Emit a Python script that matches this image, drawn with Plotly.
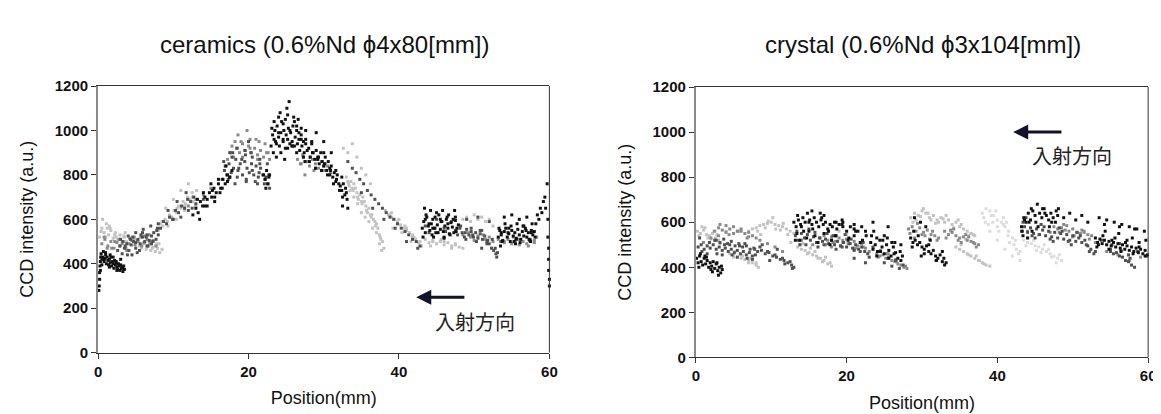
import plotly.graph_objects as go

# ================= ceramics (left panel) =================
# black
cer_k_a_x = [0.1,0.15,0.2,0.2,0.25,0.3,0.3,0.35]
cer_k_a_y = [280,300,330,360,390,410,370,430]
cer_k_b_x = [0.4,0.5,0.6,0.7,0.8,0.9,1.0,1.1,1.2,1.3,1.4,1.5,1.6,1.7,1.8,1.9,2.0,2.1,2.2,2.3,2.4,2.5,2.6,2.7,2.8,2.9,3.0,3.1,3.2,3.3,3.4,3.5]
cer_k_b_y = [445,420,430,455,410,425,440,400,430,415,395,420,405,430,390,410,400,380,415,395,405,385,375,400,390,370,395,380,385,365,390,375]
cer_k_c_x = [12.6,13.0,13.3,13.6,13.9,14.2,14.5,14.8,15.1,15.4,15.7,16.0,16.3,16.6,16.9,17.2,17.5,17.8,14.0,15.0,16.0,17.0,13.5,15.5]
cer_k_c_y = [620,650,630,680,660,700,690,720,700,740,720,760,740,780,760,800,790,820,720,760,780,840,600,680]
cer_k_d_x = [22.0,22.2,22.4,22.6,22.8,22.3,22.7]
cer_k_d_y = [800,780,820,760,800,740,790]
cer_k_e_x = [23.0,23.2,23.3,23.5,23.6,23.8,24.0,24.1,24.3,24.4,24.6,24.7,24.9,25.0,25.2,25.3,25.5,25.6,25.8,25.9,26.1,26.2,26.4,26.5,26.7,26.8,27.0,27.1,27.3,27.4,27.6,27.8,24.2,25.1,25.4,26.0,24.8,23.7,26.6,27.5]
cer_k_e_y = [930,980,900,1000,950,1020,970,930,990,1040,950,1000,920,980,960,1010,940,990,950,1020,930,970,1000,940,960,910,980,930,950,900,940,910,1080,1100,1130,1060,870,880,1050,860]
cer_k_f_x = [28.0,28.2,28.4,28.6,28.8,29.0,29.2,29.4,29.6,29.8,30.0,30.2,30.4,30.6,30.8,31.0,31.2,31.4,31.6,31.8,32.0,32.2,32.4,32.6,32.8,33.0,33.1,29.0,30.0,31.0,32.5,33.2]
cer_k_f_y = [920,880,940,900,870,910,880,850,900,860,840,880,820,860,800,840,790,810,770,800,760,750,730,760,710,720,690,990,950,900,660,650]
cer_k_g_x = [43.1,43.3,43.5,43.7,43.9,44.1,44.3,44.5,44.7,44.9,45.1,45.3,45.5,45.7,45.9,46.1,46.3,46.5,46.7,46.9,47.1,47.3,47.5,47.7,47.9,43.4,44.2,45.0,45.8,46.6,47.4,44.6,46.0]
cer_k_g_y = [560,590,540,610,570,550,580,600,560,540,575,620,555,590,545,570,600,560,535,585,565,540,595,560,575,650,640,630,640,620,640,520,515]
cer_k_h_x = [53.2,53.4,53.6,53.8,54.0,54.2,54.4,54.6,54.8,55.0,55.2,55.4,55.6,55.8,56.0,56.2,56.4,56.6,56.8,57.0,57.2,57.4,57.6,57.8,58.0,54.0,55.0,56.0,57.0,53.5,55.5,57.5]
cer_k_h_y = [520,550,530,505,545,560,520,535,500,550,525,540,515,555,530,510,545,525,560,520,540,505,550,530,545,610,620,600,610,480,490,500]
cer_k_i_x = [58.2,58.4,58.6,58.8,59.0,59.2,59.4,59.5,59.7,59.8,59.8,59.9,59.9,59.9,60.0,60.0]
cer_k_i_y = [580,620,600,650,630,680,700,650,760,600,520,470,420,370,330,300]
cer_k_j_x = [23.1,23.4,23.7,24.0,24.3,24.6,24.9,25.2,25.5,25.8,26.1,26.4,26.7,27.0,27.3,27.6,
             28.1,28.5,28.9,29.3,29.7,30.1,30.5,30.9,31.3,31.7,32.1,32.5,32.9,
             43.2,43.6,44.0,44.4,44.8,45.2,45.6,46.0,46.4,46.8,47.2,47.6,
             53.3,53.7,54.1,54.5,54.9,55.3,55.7,56.1,56.5,56.9,57.3,57.7,58.1,
             0.5,1.0,1.5,2.0,2.5,3.0,14.5,15.5,16.5,17.5]
cer_k_j_y = [1010,960,940,1060,900,1030,1050,920,1000,930,1040,900,990,1010,880,960,
             860,900,830,880,820,850,800,820,760,780,730,700,740,
             520,620,580,530,610,540,590,520,610,530,600,545,
             560,500,580,540,570,500,580,495,570,550,510,580,520,
             395,450,385,430,370,420,660,700,740,790]
cer_k_k_x = [23.4,24.0,24.6,25.2,25.8,26.4,27.0,27.6,28.4,29.2,30.0,30.8,31.6,32.4,
             43.5,44.5,45.5,46.5,47.5,53.6,54.6,55.6,56.6,57.6,0.8,1.6,2.4,3.2,13.2,14.2,15.2,16.2,17.2]
cer_k_k_y = [1040,990,960,1070,930,1020,960,1000,950,870,900,830,820,790,
             600,560,600,580,610,540,560,510,570,540,420,440,410,380,690,660,730,720,770]

# dark grey
cer_d_a_x = [2.6,2.9,3.2,3.5,3.8,4.1,4.4,4.7,5.0,5.3,5.6,5.9,6.2,6.5,6.8,7.1,7.4,7.7,8.0,3.0,4.0,5.0,6.0,7.0,8.0,4.5,5.5,6.5]
cer_d_a_y = [460,480,445,470,490,460,485,500,470,510,490,520,500,530,505,525,540,510,530,510,525,540,555,570,580,440,460,480]
cer_d_b_x = [8.3,8.7,9.1,9.5,9.9,10.3,10.7,11.1,11.5,11.9,12.3,12.7,9.3,10.5,11.7,12.5]
cer_d_b_y = [560,590,580,610,600,640,630,660,650,690,680,700,640,680,720,650]
cer_d_c_x = [16.5,16.8,17.1,17.4,17.7,18.0,18.3,18.6,18.9,19.2,19.5,19.8,20.1,20.4,20.7,21.0,21.3,21.6,21.9,22.2,22.5,22.8,17.5,18.5,19.5,20.5,21.5,22.5,18.2,19.7,21.2,20.0]
cer_d_c_y = [780,820,800,850,810,830,870,820,850,800,860,830,810,850,800,840,790,830,800,780,760,740,900,920,910,880,870,850,760,770,760,950]
cer_d_d_x = [33.2,33.8,34.3,34.8,35.3,35.8,36.3,36.8,37.3,37.8,38.3,38.8,39.3,39.8,40.3,40.8,41.3,41.8,42.3,42.8,35.0,36.5,38.0,39.5,41.0,42.5]
cer_d_d_y = [860,830,810,780,760,730,710,690,670,650,630,610,600,580,560,545,530,510,500,480,720,650,600,560,500,470]
cer_d_e_x = [47.5,47.8,48.1,48.4,48.7,49.0,49.3,49.6,49.9,50.2,50.5,50.8,51.1,51.4,51.7,52.0,52.3,52.6,52.9,53.1,49.0,50.5,52.0,51.0]
cer_d_e_y = [550,530,560,540,520,555,530,545,520,540,515,535,510,525,500,490,470,460,445,450,600,610,590,470]
cer_d_f_x = [3.3,3.9,4.6,5.2,5.9,6.6,7.3,7.9,16.7,17.3,17.9,18.5,19.1,19.7,20.3,20.9,21.5,22.1,22.7,
             10.0,11.0,12.0,13.0,14.0,48.2,48.9,49.6,50.3,51.0,51.7,52.4,53.0,44.0,45.0,46.0,47.0]
cer_d_f_y = [500,440,520,450,540,480,500,560,860,780,900,790,870,780,900,770,850,760,800,
             600,610,640,670,690,570,510,560,500,550,490,510,430,540,600,560,590]
cer_d_g_x = [3.6,4.3,5.0,5.7,6.4,7.1,7.8,16.9,17.8,18.7,19.6,20.5,21.4,22.3,48.8,49.8,50.8,51.8,52.8,43.5,44.8,46.2]
cer_d_g_y = [480,510,495,530,520,490,550,840,880,830,890,820,810,790,540,530,550,505,470,570,560,545]

# mid grey
cer_m_a_x = [0.5,0.9,1.3,1.7,2.1,2.5,2.9,3.3,3.7,4.1,4.5,4.9,5.3,5.7,6.1,6.5,6.9,7.3,7.7]
cer_m_a_y = [490,510,480,500,470,495,480,500,470,490,505,485,500,520,495,510,490,505,480]
cer_m_b_x = [17.2,17.6,18.0,18.4,18.8,19.2,19.6,20.0,20.4,20.8,21.2,21.6,22.0,22.4,22.8,18.6,19.8,21.0]
cer_m_b_y = [870,900,880,920,900,940,910,930,900,920,890,910,880,900,870,980,1000,960]
cer_m_c_x = [26.5,26.9,27.3,27.7,28.1,28.5,28.9,29.3,29.7,30.1,30.5,30.9,27.5,28.7]
cer_m_c_y = [870,850,880,860,840,870,850,830,860,820,840,810,800,820]
cer_m_d_x = [48.5,49.5,50.5,51.5,52.5,53.5,54.0,54.5,55.0,55.5,56.0,56.5,57.0,57.5,58.0,58.3]
cer_m_d_y = [530,520,525,510,500,500,495,510,490,505,485,500,490,510,495,520]
cer_m_e_x = [0.8,1.8,2.8,3.8,4.8,5.8,6.8,18.2,19.2,20.2,21.2,22.2,27.2,28.2,29.2,30.2,
             49.2,51.2,53.2,55.2,57.2,12.0,13.0,14.0,15.0]
cer_m_e_y = [520,470,510,460,520,480,530,950,880,960,870,940,890,880,870,850,
             540,530,510,520,480,660,690,710,740]
cer_m_f_x = [1.2,2.2,3.2,4.2,5.2,6.2,7.2,17.8,19.0,20.2,21.4,22.6,27.0,28.0,29.0,30.0,50.0,52.0,54.0,56.0,58.0]
cer_m_f_y = [470,500,490,515,505,525,500,930,950,920,950,900,850,860,830,840,505,520,500,510,505]

# light grey
cer_l_a_x = [0.2,0.5,0.8,1.1,1.4,1.7,2.0,2.3,2.6,2.9,3.2,3.5,3.8,0.6,1.5]
cer_l_a_y = [520,560,540,580,530,550,515,540,505,530,500,520,500,600,570]
cer_l_b_x = [5.5,5.8,6.1,6.4,6.7,7.0,7.3,7.6,7.9,8.2,8.5,6.8,7.8]
cer_l_b_y = [480,470,490,465,480,460,475,455,470,450,465,500,490]
cer_l_c_x = [8.0,8.3,8.6,8.9,9.2,9.5,9.8,10.1,10.4,10.7,11.0,11.3,11.6,11.9,12.2,12.5,12.8,13.1,9.0,10.0,11.0,12.0,13.0]
cer_l_c_y = [550,580,570,600,590,620,610,640,630,660,650,680,670,700,690,720,700,730,650,690,730,760,660]
cer_l_d_x = [33.0,33.3,33.6,33.9,34.2,34.5,34.8,35.1,35.4,35.7,36.0,36.3,36.6,36.9,37.2,37.5,37.8,38.0,33.5,34.0,34.5,35.0,35.5,36.0,36.5,37.0,37.4,37.7]
cer_l_d_y = [790,760,770,730,740,700,710,670,680,640,650,610,600,570,560,520,500,470,730,700,670,630,610,590,560,540,490,460]
cer_l_e_x = [32.6,33.2,33.8,34.4,35.0,35.6,36.2]
cer_l_e_y = [920,900,940,880,830,800,760]
cer_l_f_x = [38.2,38.6,39.0,39.4,39.8,40.2,40.6,41.0,41.4,41.8,42.2,42.6,43.0,39.2,40.4,41.6]
cer_l_f_y = [640,620,610,600,590,575,560,550,540,520,510,495,480,560,540,500]
cer_l_g_x = [43.5,44.0,44.5,45.0,45.5,46.0,46.5,47.0,47.5,48.0,48.5]
cer_l_g_y = [510,495,505,490,500,485,495,480,490,475,470]
cer_l_h_x = [48.5,49.0,49.5,50.0,50.5,51.0,51.5,52.0,52.5]
cer_l_h_y = [600,610,590,620,600,610,590,600,570]
cer_l_i_x = [1.2,2.4,3.6,4.8,9.3,10.4,11.5,12.6,33.4,34.0,34.6,35.2,35.8,36.4,37.0,37.6,
             39.0,40.0,41.0,42.0,44.2,45.6,47.0,7.2,8.1]
cer_l_i_y = [560,520,540,510,570,600,640,680,750,760,690,700,630,620,580,510,
             630,600,560,520,480,510,470,470,490]
cer_l_j_x = [0.4,1.0,1.6,2.2,2.8,3.4,8.5,9.5,10.5,11.5,12.5,33.2,33.8,34.4,35.0,35.6,36.2,36.8,37.4,
             38.8,39.8,40.8,41.8,42.8,44.5,46.0,47.5]
cer_l_j_y = [545,520,560,530,510,525,590,610,650,660,700,770,740,720,680,660,620,590,530,
             620,580,570,530,500,500,500,485]

# ================= crystal (right panel) =================
cry_k_a_x = [0.1,0.3,0.5,0.7,0.9,1.1,1.3,1.5,1.7,1.9,2.1,2.3,2.5,2.7,2.9,3.1,3.3,3.5,0.6,1.4,2.2,3.0]
cry_k_a_y = [440,420,450,425,410,440,415,430,400,420,405,425,395,415,385,400,375,390,460,445,380,365]
cry_k_b_x = [13.0,13.3,13.6,13.9,14.2,14.5,14.8,15.1,15.4,15.7,16.0,16.3,16.6,16.9,17.2,17.5,17.8,18.1,18.4,18.7,19.0,19.5,20.0,20.5,21.0,21.5,22.0,22.5]
cry_k_b_y = [600,580,610,590,620,600,640,610,590,620,600,580,610,590,600,570,590,580,600,570,590,580,560,580,570,560,580,560]
cry_k_c_x = [23.2,23.5,23.8,24.1,24.4,24.7,25.0,25.3,25.6,25.9,26.2,26.5,26.8,27.1,27.4,24.0,25.0,26.0,23.5,25.5]
cry_k_c_y = [510,480,500,470,520,490,460,500,475,450,490,465,440,470,450,530,540,510,600,580]
cry_k_d_x = [28.5,28.8,29.1,29.4,29.7,30.0,30.3,30.6,30.9,31.2,31.5,31.8,32.1,32.4,32.7,33.0,33.2,29.0,29.8,30.5]
cry_k_d_y = [530,510,520,500,510,490,480,495,470,460,475,450,440,455,425,410,420,620,600,580]
cry_k_e_x = [43.2,43.5,43.8,44.1,44.4,44.7,45.0,45.3,45.6,45.9,46.2,46.5,46.8,47.1,47.4,47.7,48.0,43.4,44.0,44.6]
cry_k_e_y = [580,620,600,640,610,650,630,680,640,620,660,630,610,640,620,600,630,540,530,560]
cry_k_f_x = [53.0,53.3,53.6,53.9,54.2,54.5,54.8,55.1,55.4,55.7,56.0,56.3,56.6,56.9,57.2,57.5,57.8,58.1,58.4,58.7,59.0,59.3,59.6,59.9,53.5,54.5,55.5,56.5,57.5,58.5,59.5]
cry_k_f_y = [530,510,525,505,520,500,515,495,510,490,505,485,500,480,495,475,490,470,485,465,480,460,475,455,620,610,600,590,580,570,560]
cry_k_g_x = [0.4,1.2,2.0,2.8,3.4,13.4,14.3,15.0,15.8,16.7,17.6,18.5,19.4,20.3,21.2,22.1,13.8,15.4,17.0,18.6,
             23.3,24.0,24.8,25.6,26.4,27.2,28.7,29.5,30.3,31.1,31.9,32.7,43.3,44.2,45.1,46.0,46.9,47.8,
             53.2,54.0,54.8,55.6,56.4,57.2,58.0,58.8,59.6,54.2,56.2,58.2]
cry_k_g_y = [400,450,390,420,405,550,560,600,540,620,560,540,590,530,560,520,520,650,630,600,
             540,450,520,440,510,430,490,540,460,520,430,470,560,600,600,660,580,650,
             490,540,480,530,470,520,460,510,450,590,580,570]
cry_k_h_x = [13.2,14.0,14.7,15.5,16.2,17.0,17.8,18.6,19.4,20.2,21.0,21.8,22.6,13.5,15.0,16.5,18.0,19.5,21.0,
             23.6,24.5,25.4,26.3,27.2,28.9,29.9,30.9,31.9,32.9,43.6,44.5,45.4,46.3,47.2,48.1,48.8,49.6,50.4,51.2,52.0,
             53.4,54.3,55.2,56.1,57.0,57.9,58.8,59.7]
cry_k_h_y = [520,580,530,570,510,550,500,540,610,520,590,510,540,630,560,640,520,600,540,
             560,470,530,460,500,560,450,500,430,440,610,660,580,640,600,660,620,640,610,630,600,
             500,560,520,550,510,530,490,520]

cry_d_a_x = [0.3,0.7,1.1,1.5,1.9,2.3,2.7,3.1,3.5,3.9,4.3,4.7,5.1,5.5,5.9,6.3,6.7,7.1,7.5,7.9]
cry_d_a_y = [490,500,480,495,485,500,480,490,475,485,470,480,465,475,460,470,455,465,450,455]
cry_d_b_x = [2.7,3.2,3.7,4.2,4.7,5.2,5.7,6.2,6.7,7.2,7.7,8.2,8.7,9.2,9.7,10.2,10.7,11.2,11.7,12.2,12.7,13.0]
cry_d_b_y = [520,510,525,505,515,495,505,490,495,480,485,470,475,460,465,450,445,435,430,420,410,400]
cry_d_c_x = [13.2,13.6,14.0,14.4,14.8,15.2,15.6,16.0,16.4,16.8,17.2,17.6,18.0,18.4,18.8,19.2,19.6,20.0,20.4,20.8,21.2,21.6,22.0,22.4,22.8,21.0,22.5]
cry_d_c_y = [540,520,550,530,545,520,535,510,530,515,525,505,520,500,515,495,510,490,505,485,500,480,490,470,460,440,420]
cry_d_d_x = [43.2,43.6,44.0,44.4,44.8,45.2,45.6,46.0,46.4,46.8,47.2,47.6,48.0,48.4,48.8,49.2,49.6,50.0,50.4,50.8,51.2,51.6,52.0,52.4,52.8]
cry_d_d_y = [560,580,555,575,550,570,545,565,540,560,535,555,530,550,525,545,520,540,515,530,510,520,495,480,460]
cry_d_e_x = [55.0,55.4,55.8,56.2,56.6,57.0,57.4,57.8,58.2]
cry_d_e_y = [470,460,465,450,445,430,425,410,400]
cry_d_f_x = [0.8,1.8,2.8,3.8,4.8,5.8,6.8,7.8,8.5,9.5,10.5,11.5,12.5,13.4,14.6,15.8,17.0,18.2,19.4,20.6,21.8,23.0,
             43.4,44.6,45.8,47.0,48.2,49.4,50.6,51.8,53.0,55.2,56.4,57.6,25.0,26.0,27.0]
cry_d_f_y = [470,510,460,500,455,495,440,480,490,470,455,440,425,560,500,555,500,540,490,525,470,445,
             600,540,590,525,575,515,555,500,470,500,475,440,420,405,395]
cry_d_g_x = [0.5,1.5,2.5,3.5,4.5,5.5,6.5,7.5,8.8,9.8,10.8,11.8,12.8,13.8,15.0,16.2,17.4,18.6,19.8,21.0,22.2,
             23.5,24.5,25.5,26.5,27.5,43.8,45.0,46.2,47.4,48.6,49.8,51.0,52.2,53.8,55.0,56.2,57.4,58.6,59.8]
cry_d_g_y = [530,460,520,455,500,445,505,435,500,430,480,415,395,500,570,490,550,480,545,475,510,
             490,470,440,430,410,620,530,580,515,560,500,540,470,520,480,505,455,470,450]

cry_m_a_x = [2.5,3.0,3.5,4.0,4.5,5.0,5.5,6.0,6.5,7.0,7.5,8.0]
cry_m_a_y = [560,575,565,585,570,580,560,570,550,555,540,530]
cry_m_b_x = [17.0,17.5,18.0,18.5,19.0,19.5,20.0,20.5,21.0,21.5,22.0,22.5]
cry_m_b_y = [540,520,535,515,530,510,525,505,515,495,505,485]
cry_m_c_x = [24.0,24.4,24.8,25.2,25.6,26.0,26.4,26.8,27.2,27.6,28.0]
cry_m_c_y = [460,450,455,440,445,430,425,415,410,400,395]
cry_m_d_x = [28.2,28.7,29.2,29.7,30.2,30.7,31.2,31.7,32.2]
cry_m_d_y = [570,580,560,575,555,565,545,540,530]
cry_m_e_x = [33.0,33.5,34.0,34.5,35.0,35.5,36.0,36.5,37.0,37.5]
cry_m_e_y = [560,545,555,540,530,535,520,515,505,500]
cry_m_f_x = [47.5,48.0,48.5,49.0,49.5,50.0,50.5,51.0,51.5,52.0,52.5]
cry_m_f_y = [580,570,575,565,560,570,555,550,560,545,540]
cry_m_g_x = [3.0,4.0,5.0,6.0,7.0,17.2,18.2,19.2,20.2,21.2,22.2,28.4,29.4,30.4,31.4,
             33.2,34.2,35.2,36.2,37.2,48.2,49.2,50.2,51.2,52.2,24.5,25.5,26.5]
cry_m_g_y = [540,555,550,560,535,500,510,495,505,485,490,550,595,540,560,
             530,570,510,535,490,555,585,540,565,525,475,460,435]
cry_m_h_x = [1.0,2.0,3.2,4.4,5.6,6.8,8.5,9.5,10.5,11.5,14.0,15.5,16.5,18.0,19.5,21.0,
             23.0,24.2,25.4,26.6,27.8,29.0,30.0,31.0,32.0,33.8,34.8,35.8,36.8,
             44.0,45.5,47.0,48.8,50.0,51.5,53.0,54.5,56.0,57.5,59.0]
cry_m_h_y = [510,530,590,545,560,530,520,505,490,470,520,500,530,490,520,480,
             470,445,460,425,405,530,545,525,520,565,520,545,510,
             560,545,555,590,535,555,510,470,455,430,445]

cry_l_a_x = [0.2,0.6,1.0,1.4,1.8,2.2,2.6,3.0]
cry_l_a_y = [560,550,565,545,540,550,530,520]
cry_l_b_x = [4.5,5.0,5.5,6.0,6.5,7.0,7.5,8.0,8.3]
cry_l_b_y = [460,455,445,440,435,430,420,410,400]
cry_l_c_x = [7.0,7.5,8.0,8.5,9.0,9.5,10.0,10.5,11.0,11.5,12.0,12.5,13.0]
cry_l_c_y = [560,570,575,585,590,595,600,590,585,580,570,560,550]
cry_l_d_x = [13.5,14.0,14.5,15.0,15.5,16.0,16.5,17.0,17.5,18.0]
cry_l_d_y = [490,480,475,465,455,450,440,430,415,405]
cry_l_e_x = [28.5,29.0,29.5,30.0,30.5,31.0,31.5,32.0,32.5,33.0,33.5,34.0,34.5,35.0,35.5,36.0,36.5,37.0]
cry_l_e_y = [620,640,630,650,640,620,630,610,620,600,610,590,600,580,570,560,550,540]
cry_l_f_x = [34.5,35.0,35.5,36.0,36.5,37.0,37.5,38.0,38.5,39.0]
cry_l_f_y = [490,480,470,460,450,440,430,420,410,405]
cry_l_g_x = [0.4,1.2,2.0,2.8,5.0,6.0,7.0,8.0,8.2,9.2,10.2,11.2,12.2,13.8,14.8,15.8,16.8,17.8,
             29.2,30.2,31.2,32.2,33.2,34.2,35.2,36.2,35.2,36.2,37.2,38.2]
cry_l_g_y = [540,575,525,545,445,455,420,420,560,575,620,565,545,500,460,470,425,420,
             610,660,610,600,630,575,590,540,500,455,450,415]
cry_l_h_x = [0.8,1.6,2.4,3.2,4.0,5.2,6.2,7.2,8.6,9.6,10.6,11.6,12.6,14.2,15.2,16.2,17.2,
             28.8,29.8,30.8,31.8,32.8,33.8,34.8,35.8,36.8,37.6,19.0,20.0,21.0]
cry_l_h_y = [580,530,560,505,560,470,450,440,545,605,570,595,510,505,485,440,445,
             600,625,640,595,615,560,610,525,545,430,560,545,570]
cry_v_a_x = [38.0,38.5,39.0,39.5,40.0,40.5,41.0,41.5,42.0,42.5,43.0,39.0,40.0,41.0]
cry_v_a_y = [640,660,650,630,610,600,580,560,530,480,430,560,520,480]
cry_v_b_x = [43.5,44.0,44.5,45.0,45.5,46.0,46.5,47.0,47.5,48.0,48.5]
cry_v_b_y = [520,510,505,495,490,480,470,460,450,440,430]
cry_v_c_x = [38.2,38.8,39.4,40.2,40.8,41.4,42.2,42.8,43.8,44.8,45.8,46.8,47.8]
cry_v_c_y = [620,590,600,560,620,540,500,460,495,520,465,480,420]
cry_v_d_x = [38.4,39.2,40.0,40.8,41.6,42.4,43.0,44.2,45.2,46.2,47.2,48.2,39.8,41.2,42.0]
cry_v_d_y = [600,630,580,590,510,520,470,530,475,500,445,455,650,600,450]

x_ticks = [0, 20, 40, 60]
y_ticks = [0, 200, 400, 600, 800, 1000, 1200]
left_title = "ceramics (0.6%Nd \u03d54x80[mm])"
right_title = "crystal (0.6%Nd \u03d53x104[mm])"
x_title = "Position(mm)"
y_title = "CCD intensity (a.u.)"
arrow_label = "入射方向"

C_BLACK, C_DARK, C_MID, C_LIGHT, C_VLIGHT = "#111111", "#505050", "#8a8a8a", "#c2c2c2", "#dcdcdc"

left_groups = [
    (C_LIGHT, [(cer_l_a_x, cer_l_a_y), (cer_l_b_x, cer_l_b_y), (cer_l_c_x, cer_l_c_y), (cer_l_d_x, cer_l_d_y),
               (cer_l_e_x, cer_l_e_y), (cer_l_f_x, cer_l_f_y), (cer_l_g_x, cer_l_g_y), (cer_l_h_x, cer_l_h_y),
               (cer_l_i_x, cer_l_i_y), (cer_l_j_x, cer_l_j_y)]),
    (C_MID, [(cer_m_a_x, cer_m_a_y), (cer_m_b_x, cer_m_b_y), (cer_m_c_x, cer_m_c_y), (cer_m_d_x, cer_m_d_y),
             (cer_m_e_x, cer_m_e_y), (cer_m_f_x, cer_m_f_y)]),
    (C_DARK, [(cer_d_a_x, cer_d_a_y), (cer_d_b_x, cer_d_b_y), (cer_d_c_x, cer_d_c_y), (cer_d_d_x, cer_d_d_y),
              (cer_d_e_x, cer_d_e_y), (cer_d_f_x, cer_d_f_y), (cer_d_g_x, cer_d_g_y)]),
    (C_BLACK, [(cer_k_a_x, cer_k_a_y), (cer_k_b_x, cer_k_b_y), (cer_k_c_x, cer_k_c_y), (cer_k_d_x, cer_k_d_y),
               (cer_k_e_x, cer_k_e_y), (cer_k_f_x, cer_k_f_y), (cer_k_g_x, cer_k_g_y), (cer_k_h_x, cer_k_h_y),
               (cer_k_i_x, cer_k_i_y), (cer_k_j_x, cer_k_j_y), (cer_k_k_x, cer_k_k_y)]),
]
right_groups = [
    (C_VLIGHT, [(cry_v_a_x, cry_v_a_y), (cry_v_b_x, cry_v_b_y), (cry_v_c_x, cry_v_c_y), (cry_v_d_x, cry_v_d_y)]),
    (C_LIGHT, [(cry_l_a_x, cry_l_a_y), (cry_l_b_x, cry_l_b_y), (cry_l_c_x, cry_l_c_y), (cry_l_d_x, cry_l_d_y),
               (cry_l_e_x, cry_l_e_y), (cry_l_f_x, cry_l_f_y), (cry_l_g_x, cry_l_g_y), (cry_l_h_x, cry_l_h_y)]),
    (C_MID, [(cry_m_a_x, cry_m_a_y), (cry_m_b_x, cry_m_b_y), (cry_m_c_x, cry_m_c_y), (cry_m_d_x, cry_m_d_y),
             (cry_m_e_x, cry_m_e_y), (cry_m_f_x, cry_m_f_y), (cry_m_g_x, cry_m_g_y), (cry_m_h_x, cry_m_h_y)]),
    (C_DARK, [(cry_d_a_x, cry_d_a_y), (cry_d_b_x, cry_d_b_y), (cry_d_c_x, cry_d_c_y), (cry_d_d_x, cry_d_d_y),
              (cry_d_e_x, cry_d_e_y), (cry_d_f_x, cry_d_f_y), (cry_d_g_x, cry_d_g_y)]),
    (C_BLACK, [(cry_k_a_x, cry_k_a_y), (cry_k_b_x, cry_k_b_y), (cry_k_c_x, cry_k_c_y), (cry_k_d_x, cry_k_d_y),
               (cry_k_e_x, cry_k_e_y), (cry_k_f_x, cry_k_f_y), (cry_k_g_x, cry_k_g_y), (cry_k_h_x, cry_k_h_y)]),
]

fig = go.Figure()
for groups, xa, ya in [(left_groups, "x", "y"), (right_groups, "x2", "y2")]:
    for color, segs in groups:
        xs, ys = [], []
        for sx, sy in segs:
            xs += sx
            ys += sy
        fig.add_trace(go.Scatter(x=xs, y=ys, mode="markers", xaxis=xa, yaxis=ya,
                                 marker=dict(color=color, size=3, symbol="square", line=dict(width=0)),
                                 showlegend=False, hoverinfo="skip", cliponaxis=False))

W, H = 1161, 414
FONT = "Arial, Liberation Sans, sans-serif"
tickfont = dict(family=FONT, size=15, color="#111", weight="bold")
titlefont = dict(family=FONT, size=18, color="#111")

def xaxis(dom, anchor):
    return dict(domain=dom, anchor=anchor, range=[0, 60], tickvals=x_ticks,
                ticks="outside", ticklen=5, tickcolor="#333", showgrid=False, zeroline=False,
                showline=True, linecolor="#333", linewidth=1, mirror=True,
                tickfont=tickfont, title=dict(text=x_title, font=titlefont, standoff=12))

def yaxis(dom, anchor):
    return dict(domain=dom, anchor=anchor, range=[0, 1200], tickvals=y_ticks,
                ticks="outside", ticklen=5, tickcolor="#333", showgrid=False, zeroline=False,
                showline=True, linecolor="#8a8a8a", linewidth=2,
                tickfont=tickfont, title=dict(text=y_title, font=titlefont, standoff=16))

fig.update_layout(
    width=W, height=H, margin=dict(l=0, r=0, t=0, b=0),
    paper_bgcolor="white", plot_bgcolor="white",
    xaxis=xaxis([87 / W, 543 / W], "y"),
    yaxis=yaxis([1 - 350 / H, 1 - 72 / H], "x"),
    xaxis2=xaxis([691 / W, 1148 / W], "y2"),
    yaxis2=yaxis([1 - 355 / H, 1 - 73 / H], "x2"),
)

for xr, yr in [("x domain", "y domain"), ("x2 domain", "y2 domain")]:
    fig.add_shape(type="line", xref=xr, yref=yr, x0=1, x1=1, y0=0, y1=1,
                  line=dict(color="#333", width=1))

fig.add_annotation(text=left_title, xref="paper", yref="paper", x=316 / W, y=1 - 29 / H,
                   xanchor="center", yanchor="middle", showarrow=False,
                   font=dict(family=FONT, size=24, color="#111"))
fig.add_annotation(text=right_title, xref="paper", yref="paper", x=921 / W, y=1 - 29 / H,
                   xanchor="center", yanchor="middle", showarrow=False,
                   font=dict(family=FONT, size=24, color="#111"))

ARROW = "#12122a"
CJK = dict(family="Noto Sans CJK JP", size=20, color="#222")
fig.add_annotation(x=42.3, y=249, ax=48.9, ay=249, xref="x", yref="y", axref="x", ayref="y",
                   text="", showarrow=True, arrowhead=2, arrowsize=1, arrowwidth=3, arrowcolor=ARROW)
fig.add_annotation(x=50.1, y=142, xref="x", yref="y", text=arrow_label, showarrow=False, font=CJK)
fig.add_annotation(x=42.1, y=1000, ax=48.7, ay=1000, xref="x2", yref="y2", axref="x2", ayref="y2",
                   text="", showarrow=True, arrowhead=2, arrowsize=1, arrowwidth=3, arrowcolor=ARROW)
fig.add_annotation(x=49.9, y=895, xref="x2", yref="y2", text=arrow_label, showarrow=False, font=CJK)

fig.write_html("out.html")
